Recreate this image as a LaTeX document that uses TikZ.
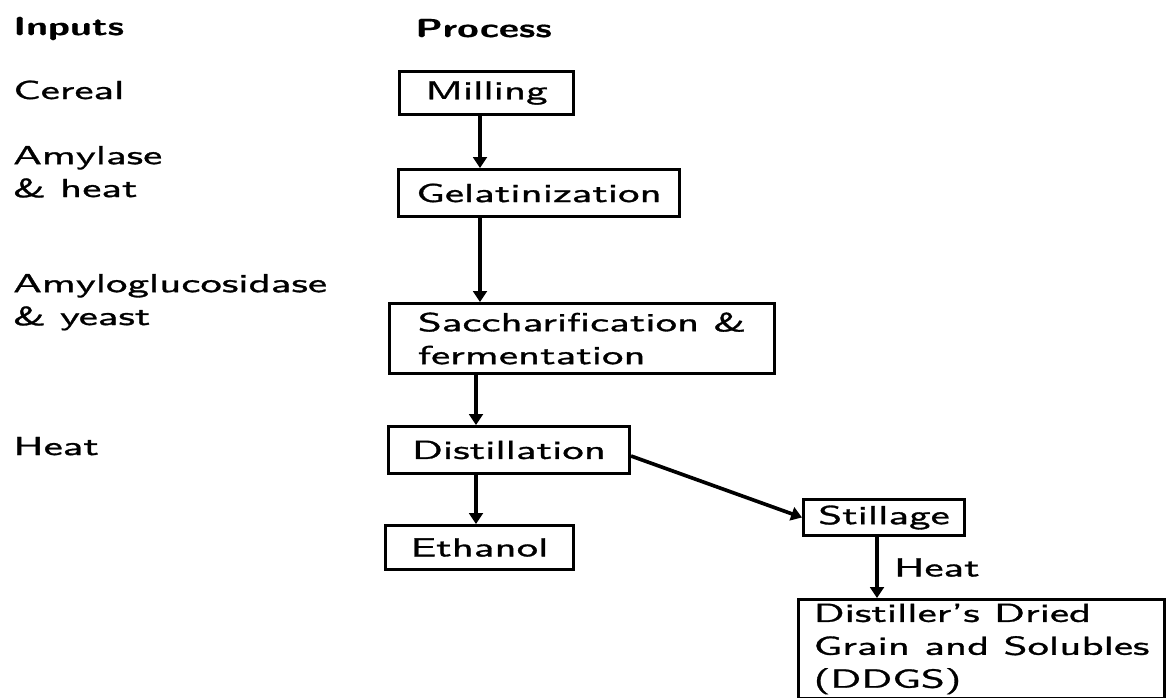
\documentclass[tikz,border=0pt]{standalone}
\usepackage{fontspec}
\setmainfont{lmsans10}[Extension=.otf, UprightFont=*-regular, BoldFont=*-bold, FakeStretch=1.65, FakeBold=1.2,
    BoldFeatures={FakeStretch=1.5, FakeBold=0.6}]
\usetikzlibrary{arrows.meta,
    positioning}

\tikzset{
    txt/.style={font=\fontsize{18.5}{23.4}\selectfont, inner sep=0pt, align=left, anchor=base west},
    stepbox/.style={draw, line width=2.1pt, font=\fontsize{18.5}{23.4}\selectfont, align=left, anchor=north west, inner sep=0pt},
    flow/.style={line width=2.6pt, -{Triangle[width=0.34cm,length=0.27cm]}}
}

\begin{document}
\begin{tikzpicture}[x=0.025cm,y=-0.025cm]
                  \useasboundingbox (0,0) rectangle (1166,698);
                  \node[txt] (inputs) at (13,35) {\textbf{Inputs}};
                  \node[txt] (process) at (415,37) {\textbf{Process}};
                  \node[txt] (cereal) at (13,99) {Cereal};
                  \node[txt] (amylase) at (13,197) {Amylase\\\& heat};
                  \node[txt] (amylo) at (13,325) {Amyloglucosidase\\\& yeast};
                  \node[txt] (heat) at (13,455) {Heat};
                  \node[stepbox, minimum width=4.35cm, minimum height=1.075cm] (milling) at (398,70) {Milling};
                  \node[stepbox, minimum width=7.025cm, minimum height=1.175cm] (gel) at (397,168) {Gelatinization};
                  \node[stepbox, minimum width=9.625cm, minimum height=1.75cm] (sacch) at (388,302) {Saccharification \&\\fermentation};
                  \node[stepbox, minimum width=6.025cm, minimum height=1.175cm] (dist) at (387,425) {Distillation};
                  \node[stepbox, minimum width=4.7cm, minimum height=1.1cm] (ethanol) at (384,524) {Ethanol};
                  \node[stepbox, minimum width=4.025cm, minimum height=0.9cm] (stillage) at (802,498) {Stillage};
                  \node[stepbox, minimum width=9.15cm, minimum height=2.475cm] (ddgs) at (797,598) {Distiller's Dried\\Grain and Solubles\\(DDGS)};
                  \coordinate (spineA) at (480,0);
                  \coordinate (spineB) at (476,0);
                  \coordinate (spineC) at (877,0);
                  \draw[flow] (milling.south -| spineA) -- (gel.north -| spineA);
                  \draw[flow] (gel.south -| spineA) -- (sacch.north -| spineA);
                  \draw[flow] (sacch.south -| spineB) -- (dist.north -| spineB);
                  \draw[flow] (dist.south -| spineB) -- (ethanol.north -| spineB);
                  \draw[flow] ([yshift=-0.15cm]dist.east) -- (stillage.west);
                  \draw[flow] (stillage.south -| spineC) -- node[txt, anchor=west, right=0.38cm] (heatlbl) {Heat} (ddgs.north -| spineC);
              \end{tikzpicture}
\end{document}
